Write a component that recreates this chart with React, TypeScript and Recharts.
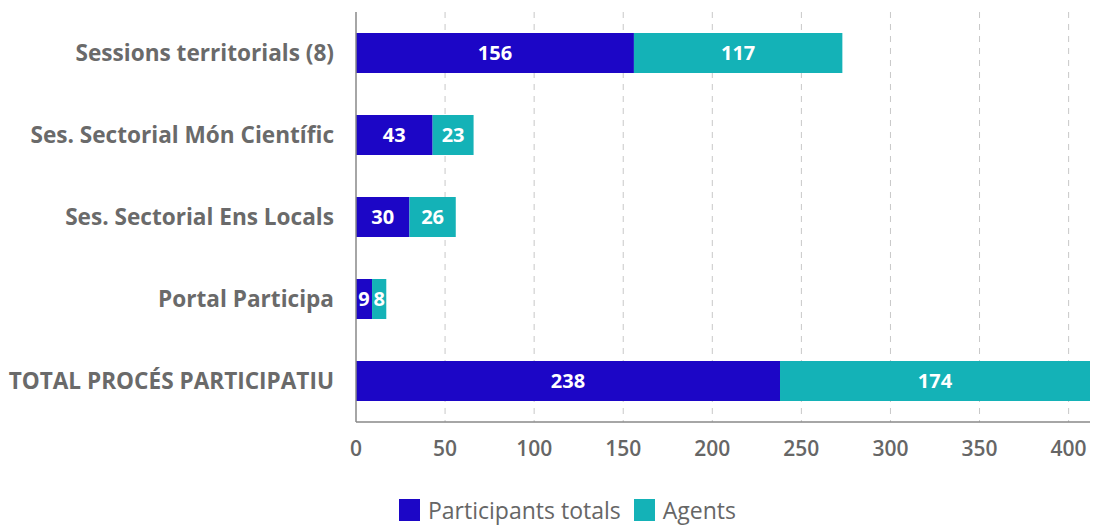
import { BarChart, Bar, XAxis, YAxis, CartesianGrid, Legend, LabelList } from "recharts";

const categories = [
    "Sessions territorials (8)",
    "Ses. Sectorial Món Científic",
    "Ses. Sectorial Ens Locals",
    "Portal Participa",
    "TOTAL PROCÉS PARTICIPATIU",
];
const participants = [156, 43, 30, 9, 238];
const agents = [117, 23, 26, 8, 174];
const xTicks = [0, 50, 100, 150, 200, 250, 300, 350, 400];

const BLUE = "#1c06c6";
const TEAL = "#14b2b7";
const FONT = "'Open Sans', 'Noto Sans', sans-serif";

const chartData = categories.map((name, i) => ({
    name,
    participants: participants[i],
    agents: agents[i],
}));

function LegendContent() {
    const items = [
        { label: "Participants totals", color: BLUE },
        { label: "Agents", color: TEAL },
    ];
    return (
        <div
            style={{
                height: 65,
                display: "flex",
                alignItems: "flex-end",
                paddingLeft: 399,
                paddingBottom: 1,
                boxSizing: "border-box",
                fontFamily: FONT,
                fontSize: 23,
                color: "#666",
            }}
        >
            {items.map((it) => (
                <div key={it.label} style={{ display: "flex", alignItems: "center", marginRight: 13 }}>
                    <span style={{ display: "inline-block", width: 21, height: 22, background: it.color, marginRight: 8 }} />
                    <span>{it.label}</span>
                </div>
            ))}
        </div>
    );
}

export default function App() {
    return (
        <div style={{ position: "absolute", left: 0, top: 0, width: 1117, height: 527, background: "#fff" }}>
            <BarChart
                width={1117}
                height={527}
                data={chartData}
                layout="vertical"
                margin={{ top: 12, right: 27, bottom: 0, left: 0 }}
                barCategoryGap={21}
            >
                <CartesianGrid
                    horizontal={false}
                    vertical={true}
                    verticalValues={xTicks.slice(1)}
                    stroke="#c8c8c8"
                    strokeDasharray="6 6"
                />
                <XAxis
                    type="number"
                    domain={[0, 412]}
                    ticks={xTicks}
                    height={40}
                    axisLine={{ stroke: "#888", strokeWidth: 1.5 }}
                    tickLine={false}
                    tickMargin={13}
                    tick={{ fill: "#666", fontFamily: FONT, fontSize: 21, fontWeight: 600 }}
                />
                <YAxis
                    type="category"
                    dataKey="name"
                    width={356}
                    axisLine={{ stroke: "#888", strokeWidth: 1.5 }}
                    tickLine={false}
                    tickMargin={16}
                    tick={{ fill: "#6a6a6a", fontFamily: FONT, fontSize: 22.6, fontWeight: 700 }}
                />
                <Legend verticalAlign="bottom" height={65} content={() => <LegendContent />} wrapperStyle={{ left: 0, width: 1117 }} />
                <Bar dataKey="participants" name="Participants totals" stackId="a" fill={BLUE} isAnimationActive={false}>
                    <LabelList
                        dataKey="participants"
                        position="center"
                        fill="#fff"
                        style={{ fontFamily: FONT, fontSize: 20, fontWeight: 700 }}
                    />
                </Bar>
                <Bar dataKey="agents" name="Agents" stackId="a" fill={TEAL} isAnimationActive={false}>
                    <LabelList
                        dataKey="agents"
                        position="center"
                        fill="#fff"
                        style={{ fontFamily: FONT, fontSize: 20, fontWeight: 700 }}
                    />
                </Bar>
            </BarChart>
        </div>
    );
}
